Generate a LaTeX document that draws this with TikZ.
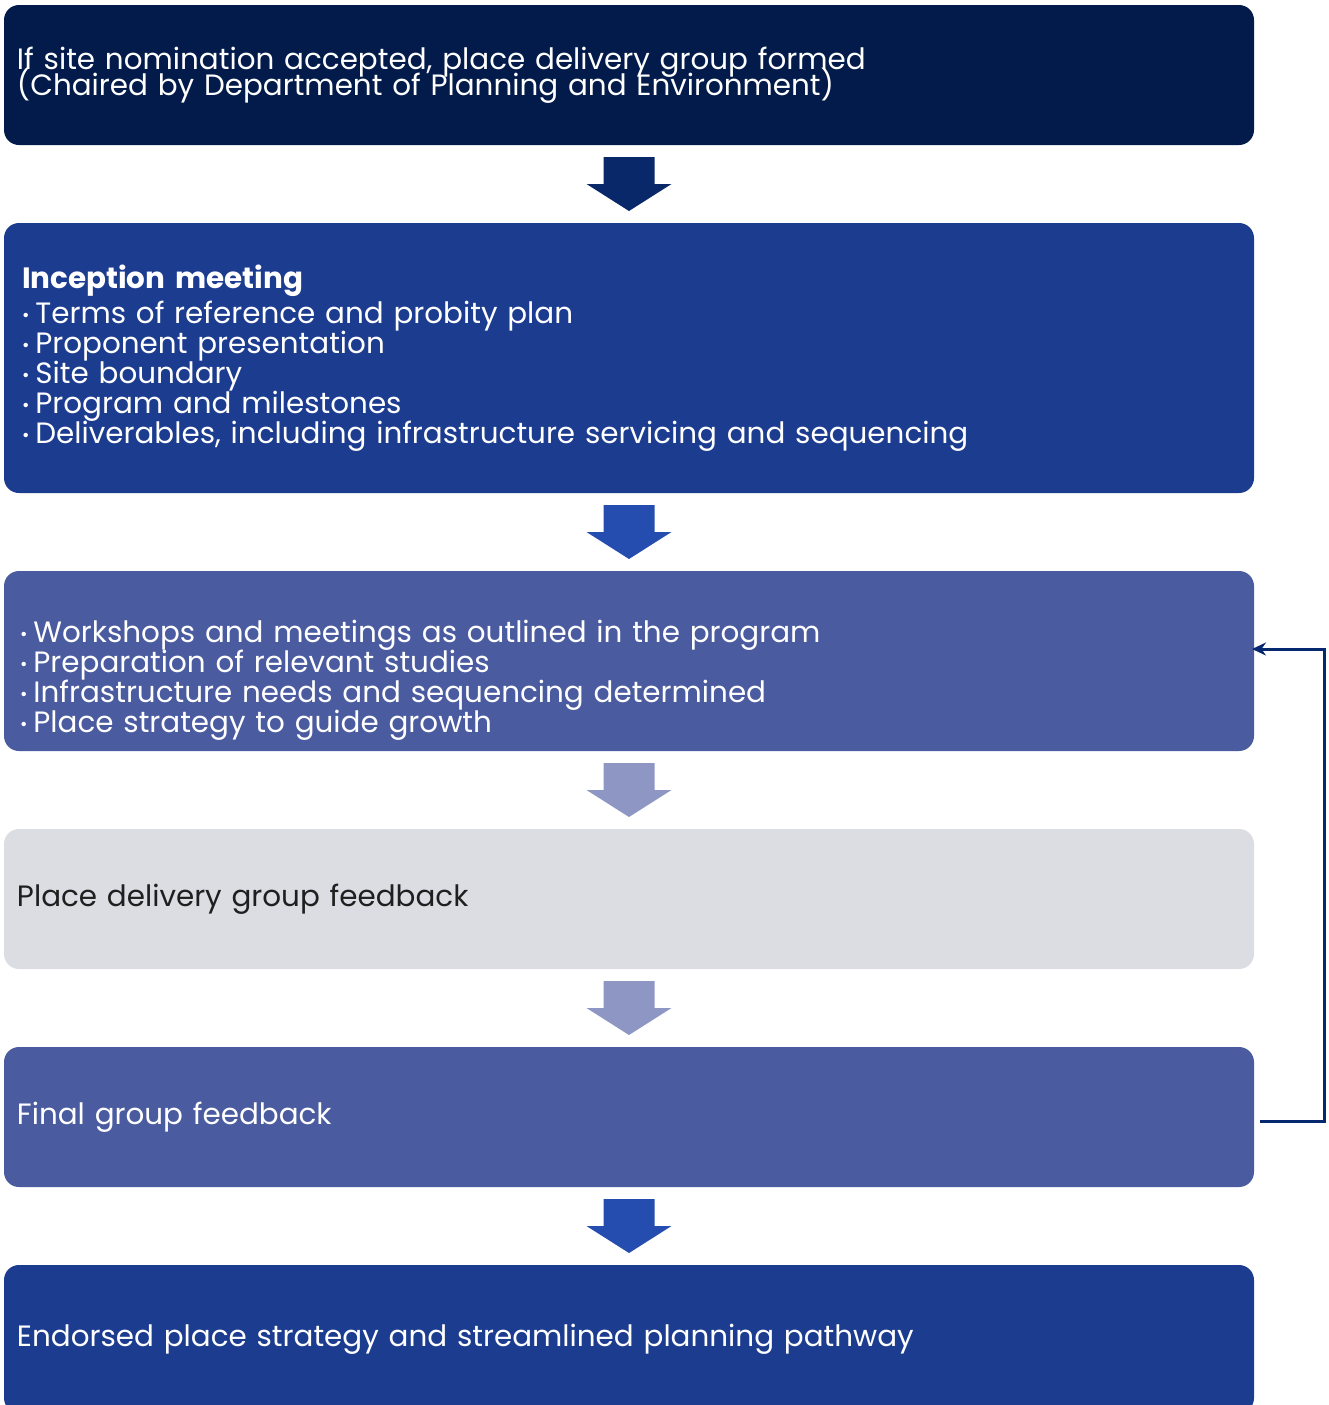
\documentclass[tikz,border=0pt]{standalone}
\usepackage{fontspec}
\setmainfont{Poppins}
\usetikzlibrary{arrows.meta, positioning, calc}

\definecolor{darknavy}{RGB}{2,27,74}
\definecolor{royal}{RGB}{28,60,143}
\definecolor{slate}{RGB}{74,91,160}
\definecolor{mist}{RGB}{220,221,227}
\definecolor{arrowdark}{RGB}{8,40,105}
\definecolor{arrowblue}{RGB}{37,77,175}
\definecolor{arrowpale}{RGB}{142,151,196}
\definecolor{loopline}{RGB}{5,40,110}

\newcommand{\bul}{\raisebox{1pt}{\fontsize{9}{9}\selectfont •}\hspace{3pt}}
\DeclareRobustCommand{\stagefont}{\fontsize{14.7}{15}\selectfont\lineskiplimit=-20pt\relax}
\DeclareRobustCommand{\tightlines}{\fontsize{14.7}{12.8}\selectfont\lineskiplimit=-20pt\relax}

\tikzset{
    stage/.style={rectangle, rounded corners=7.5pt, minimum width=625pt, inner xsep=6.5pt, inner ysep=0pt, outer sep=0pt, text width=612pt, align=left, text=white, font=\stagefont},
    light stage/.style={stage, fill=mist, text={black!88}},
    loop back/.style={draw=loopline, line width=1.5pt, -{Stealth[length=7pt, width=6.5pt]}},
    pics/down arrow/.style={code={
        \fill[#1] (-25.5,-27) -- (25.5,-27) -- (25.5,0) -- (42.5,0) -- (0,27) -- (-42.5,0) -- (-25.5,0) -- cycle;
    }}
}

\begin{document}
\begin{tikzpicture}[x=0.5pt, y=-0.5pt, node distance=39pt]
    \useasboundingbox (0,0) rectangle (1329,1405);
    \clip (0,0) rectangle (1329,1405);

    \node[stage, fill=darknavy, minimum height=70pt, font=\tightlines] (formed) at (629,75)
        {If site nomination accepted, place delivery group formed\\(Chaired by Department of Planning and Environment)};
    \node[stage, fill=royal, minimum height=135pt, inner xsep=9pt, text width=607pt, below=of formed] (inception)
        {\textbf{Inception meeting}\\[2.5pt]
         \bul Terms of reference and probity plan\\
         \bul Proponent presentation\\
         \bul Site boundary\\
         \bul Program and milestones\\
         \bul Deliverables, including infrastructure servicing and sequencing};
    \node[stage, fill=slate, minimum height=90pt, inner xsep=8pt, text width=609pt, below=of inception] (workshops)
        {\rule{0pt}{30pt}\bul Workshops and meetings as outlined in the program\\
         \bul Preparation of relevant studies\\
         \bul Infrastructure needs and sequencing determined\\
         \bul Place strategy to guide growth};
    \node[light stage, minimum height=70pt, below=of workshops] (pdgfeedback)
        {Place delivery group feedback};
    \node[stage, fill=slate, minimum height=70pt, below=of pdgfeedback] (finalfeedback)
        {Final group feedback};
    \node[stage, fill=royal, minimum height=74pt, below=of finalfeedback] (endorsed)
        {Endorsed place strategy and streamlined planning pathway};

    % block arrows between the stages
    \pic at ($(formed.south)!0.5!(inception.north)$) {down arrow=arrowdark};
    \pic at ($(inception.south)!0.5!(workshops.north)$) {down arrow=arrowblue};
    \pic at ($(workshops.south)!0.5!(pdgfeedback.north)$) {down arrow=arrowpale};
    \pic at ($(pdgfeedback.south)!0.5!(finalfeedback.north)$) {down arrow=arrowpale};
    \pic at ($(finalfeedback.south)!0.5!(endorsed.north)$) {down arrow=arrowblue};

    % feedback loop
    \coordinate (loopstart) at ($(finalfeedback.east)+(6,4)$);
    \coordinate (loopend) at ($(workshops.east)+(-2,-12)$);
    \draw[loop back] (loopstart) -- ++(64,0) |- (loopend);
\end{tikzpicture}
\end{document}
